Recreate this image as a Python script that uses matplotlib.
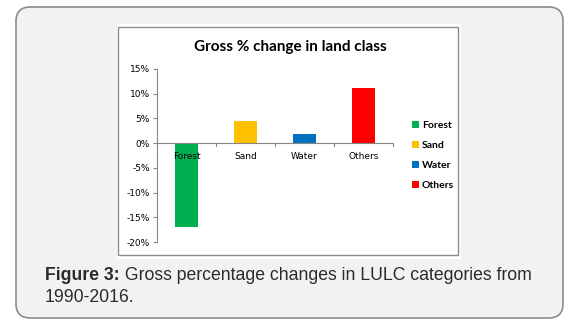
import matplotlib.pyplot as plt
from matplotlib.patches import FancyBboxPatch, Rectangle
from matplotlib.ticker import PercentFormatter

plt.rcParams["axes.unicode_minus"] = False

categories = ["Forest", "Sand", "Water", "Others"]
values = [-17.0, 4.5, 1.8, 11.1]
colors = ["#00b050", "#ffc000", "#0070c0", "#ff0000"]
y_ticks = [15, 10, 5, 0, -5, -10, -15, -20]

W, H = 573, 325
fig = plt.figure(figsize=(W / 100, H / 100), dpi=100)
fig.patch.set_facecolor("white")


def fx(px):
    return px / W


def fy(py):
    return 1 - py / H


# outer rounded caption box
box = FancyBboxPatch((fx(16), fy(318)), fx(563 - 16), (318 - 7) / H,
                     boxstyle="round,pad=0,rounding_size=0.025",
                     transform=fig.transFigure, facecolor="#f2f2f2",
                     edgecolor="#8c8c8c", linewidth=1.2, mutation_aspect=W / H)
fig.patches.append(box)

# white chart area with its grey frame
fig.patches.append(Rectangle((fx(117), fy(259)), fx(461 - 117), (259 - 24) / H,
                             transform=fig.transFigure, facecolor="white",
                             edgecolor="none"))
fig.patches.append(Rectangle((fx(118), fy(255)), fx(458 - 118), (255 - 27) / H,
                             transform=fig.transFigure, facecolor="none",
                             edgecolor="#8c8c8c", linewidth=1.0))

ax = fig.add_axes([fx(157), fy(242), fx(393 - 157), (242 - 69) / H])
ax.set_zorder(3)
ax.set_facecolor("none")
x = range(len(categories))
bars = ax.bar(x, values, width=0.4, color=colors)
ax.set_xlim(-0.5, len(categories) - 0.5)
ax.set_ylim(-20, 15)
ax.set_yticks(y_ticks)
ax.yaxis.set_major_formatter(PercentFormatter(decimals=0))
ax.tick_params(axis="y", labelsize=6.5, length=3, color="#868686", pad=2)
for s in ["top", "right", "bottom"]:
    ax.spines[s].set_visible(False)
ax.spines["left"].set_color("#868686")
ax.spines["left"].set_linewidth(0.8)
ax.axhline(0, color="#868686", linewidth=0.8)
ax.set_xticks([])
for i in x:
    ax.plot([i - 0.5, i - 0.5], [0, -0.6], color="#868686", lw=0.8, clip_on=False)
    ax.text(i, -1.8, categories[i], ha="center", va="top", fontsize=6.5)
ax.plot([len(categories) - 0.5] * 2, [0, -0.6], color="#868686", lw=0.8, clip_on=False)

fig.text(fx(290.5), fy(51), "Gross % change in land class", fontsize=11,
         fontweight="bold", family="Lato", ha="center", va="baseline")

ax.legend(handles=bars, labels=categories, loc="center left",
          bbox_to_anchor=(fx(403), fy(155.5)), bbox_transform=fig.transFigure,
          frameon=False, handlelength=0.6, handleheight=0.6,
          handletextpad=0.3, labelspacing=1.05,
          prop={"family": "Lato", "size": 7.5, "weight": "bold"})

# caption
cap_color = "#2b2b2b"
fig_lbl = fig.text(fx(45), fy(280.5), "Figure 3:", fontsize=12.7, fontweight="bold",
                   family="Liberation Sans", va="baseline", color=cap_color)
ax.annotate(" Gross percentage changes in LULC categories from",
            xy=(1, 0), xycoords=fig_lbl, fontsize=12.7, color=cap_color,
            family="Liberation Sans", va="bottom", annotation_clip=False)
fig.text(fx(45), fy(301.5), "1990-2016.", fontsize=12.7, family="Liberation Sans",
         va="baseline", color=cap_color)

fig.savefig("out.png", dpi=100)
